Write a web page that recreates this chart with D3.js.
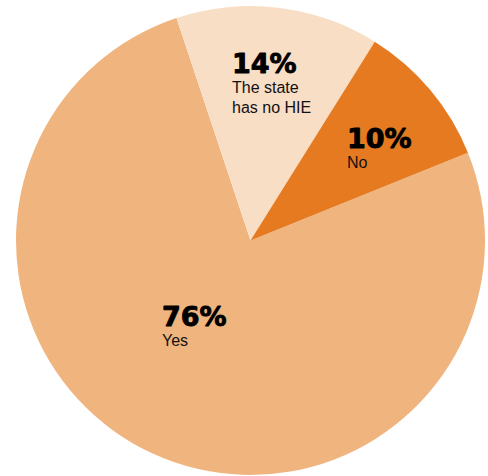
<!DOCTYPE html>
<html>
<head>
<meta charset="utf-8">
<script src="https://cdn.jsdelivr.net/npm/d3@7"></script>
<style>
  html, body { margin: 0; padding: 0; background: #fff; }
  svg { display: block; }
</style>
</head>
<body>
<svg id="chart" width="488" height="476"></svg>
<script>
// Share of states by HIE status
const categories = ["Yes", "The state\nhas no HIE", "No"];
const values = [76, 14, 10];
const colors = ["#F0B47F", "#F9DEC6", "#E57A21"];

const width = 488, height = 476;
const cx = 250.5, cy = 240.5, radius = 234.5;

const svg = d3.select("#chart");
const g = svg.append("g").attr("transform", `translate(${cx},${cy})`);

const data = categories.map((c, i) => ({ name: c, value: values[i], color: colors[i] }));

// Yes slice starts at ~68° clockwise from 12 o'clock
const total = d3.sum(values);
const start = (values[2] / total) * 2 * Math.PI + (-18.4 / 180) * Math.PI + (values[1] / total) * 2 * Math.PI;

const pie = d3.pie().value(d => d.value).sort(null)
  .startAngle(start).endAngle(start + 2 * Math.PI);
const arc = d3.arc().innerRadius(0).outerRadius(radius);

const arcs = pie(data);

g.selectAll("path.slice")
  .data(arcs)
  .join("path")
  .attr("class", "slice")
  .attr("d", arc)
  .attr("fill", d => d.data.color);

// Label anchor points (left edge of the text block, baseline of the percentage)
const labelPos = [
  { x: 162 - cx, y: 326 - cy },
  { x: 232 - cx, y: 73 - cy },
  { x: 347 - cx, y: 148 - cy }
];

const labels = g.selectAll("g.label")
  .data(arcs)
  .join("g")
  .attr("class", "label")
  .attr("transform", (d, i) => `translate(${labelPos[i].x},${labelPos[i].y})`);

labels.append("text")
  .attr("font-family", "'DejaVu Sans', sans-serif")
  .attr("font-weight", "bold")
  .attr("font-size", 27)
  .attr("fill", "#000")
  .attr("stroke", "#000")
  .attr("stroke-width", 0.9)
  .attr("stroke-linejoin", "round")
  .text(d => d3.format(".0f")(d.data.value) + "%");

labels.each(function(d) {
  const lines = d.data.name.split("\n");
  const t = d3.select(this).append("text")
    .attr("font-family", "'Liberation Sans', Arial, sans-serif")
    .attr("font-size", 16)
    .attr("fill", "#111");
  lines.forEach((ln, j) => {
    t.append("tspan").attr("x", 0).attr("y", 20 + j * 20).text(ln);
  });
});
</script>
</body>
</html>
